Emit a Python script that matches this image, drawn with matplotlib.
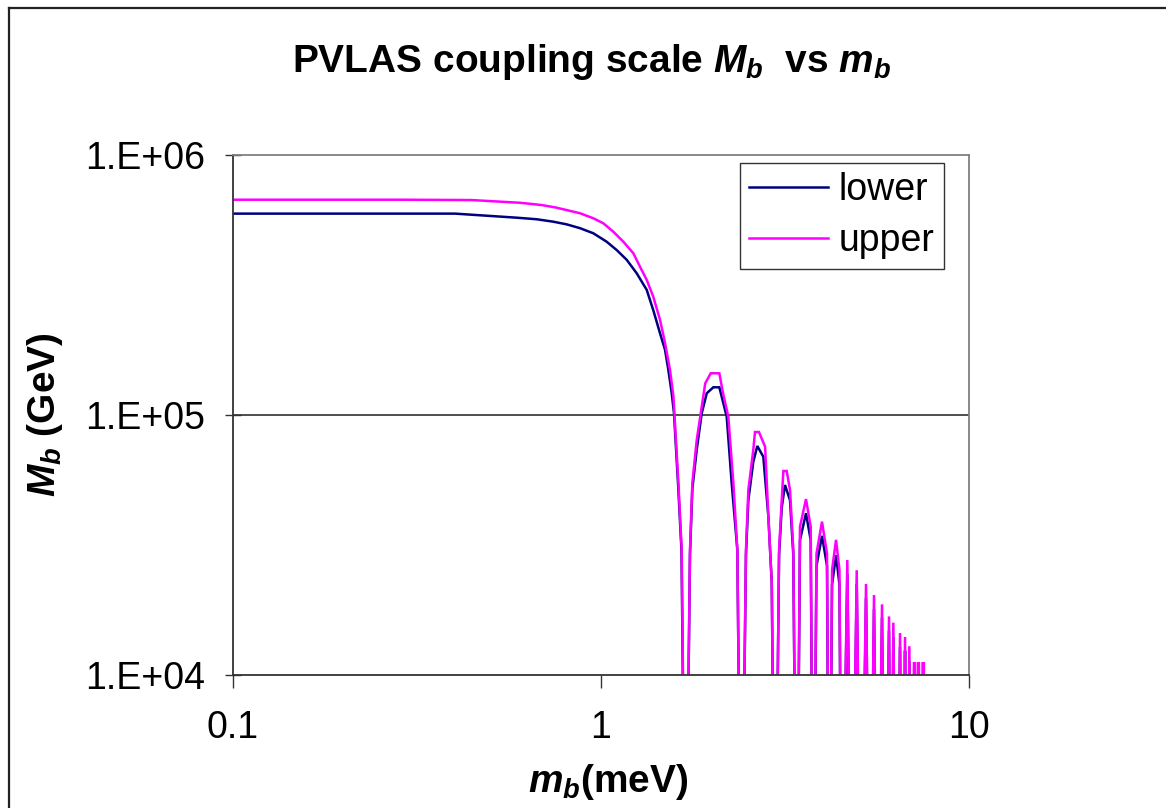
import matplotlib
matplotlib.use("Agg")
import matplotlib.pyplot as plt
from matplotlib.lines import Line2D

# Values (m_b in meV, M_b in GeV).
# Zeros of the oscillation are stored as 1e3 so the line drops off the log axis.
upper_m = [0.100, 0.284, 0.445, 0.603, 0.690, 0.750, 0.807, 0.877, 0.953, 1.015, 1.080, 1.150,
           1.224, 1.276, 1.331, 1.387, 1.447, 1.493, 1.540, 1.573, 1.592, 1.623, 1.657, 1.697,
           1.745, 1.771, 1.820, 1.878, 1.920, 1.987, 2.097, 2.146, 2.218, 2.289, 2.347, 2.406,
           2.477, 2.514, 2.593, 2.621, 2.687, 2.792, 2.850, 2.911, 2.971,
           3.047, 3.098, 3.130, 3.196, 3.263, 3.331, 3.402,
           3.473, 3.606, 3.714, 3.775,
           3.851, 3.986, 4.113, 4.173,
           4.244, 4.352, 4.447, 4.510,
           4.670, 4.801, 4.953, 5.088, 5.250, 5.383, 5.519, 5.649,
           5.803, 5.913, 6.063, 6.139, 6.228, 6.362, 6.495, 6.598,
           6.702, 6.785, 6.884, 6.988,
           7.085, 7.125, 7.192, 7.265, 7.310, 7.374, 7.480, 7.540, 7.616]
upper_M = [673000, 673000, 671000, 655000, 642000, 629000, 614000, 597000, 571000, 546000, 507000, 464000,
           419000, 372000, 331000, 285000, 232000, 189000, 149000, 118000, 88000, 54800, 30300, 1000,
           30300, 54800, 80100, 107600, 132400, 144700, 144700, 121200, 98500, 54800, 30300, 1000,
           30300, 51500, 73400, 86000, 86000, 75500, 40600, 22600, 1000,
           30300, 47100, 60900, 60900, 51500, 30300, 1000,
           37200, 47500, 37200, 1000,
           29300, 38900, 29300, 1000,
           25300, 33100, 25300, 1000,
           27700, 1000, 25300, 1000, 22400, 1000, 20300, 1000,
           18700, 1000, 16800, 1000, 15900, 1000, 14500, 1000,
           14000, 1000, 12900, 1000,
           11100, 11100, 1000, 11100, 11100, 1000, 11100, 11100, 1000]

lower_m = [0.100, 0.401, 0.590, 0.669, 0.742, 0.807, 0.877, 0.953, 1.036, 1.103, 1.175,
           1.250, 1.331, 1.387, 1.447, 1.493, 1.524, 1.557, 1.579, 1.620, 1.655, 1.697,
           1.745, 1.771, 1.820, 1.878, 1.938, 2.019, 2.097, 2.196, 2.265, 2.347, 2.406,
           2.477, 2.514, 2.593, 2.659, 2.761, 2.850, 2.911, 2.971,
           3.047, 3.098, 3.162, 3.263, 3.331, 3.402,
           3.473, 3.606, 3.714, 3.775,
           3.851, 3.986, 4.113, 4.173,
           4.244, 4.352, 4.447, 4.510,
           4.670, 4.801, 4.953, 5.088, 5.250, 5.383, 5.519, 5.649,
           5.803, 5.913, 6.063, 6.139, 6.228, 6.362, 6.495, 6.598,
           6.702, 6.785, 6.884, 6.988,
           7.111, 7.192, 7.291, 7.374, 7.510, 7.616]
lower_M = [595000, 595000, 574000, 566000, 554000, 541000, 523000, 500000, 464000, 431000, 395000,
           351000, 303000, 253000, 206000, 178000, 149000, 121000, 101500, 54000, 30000, 1000,
           29000, 52000, 73400, 101500, 121200, 127800, 127800, 98500, 54800, 30300, 1000,
           29000, 47000, 66000, 76000, 69100, 40600, 22600, 1000,
           29000, 44000, 53800, 47000, 29000, 1000,
           33000, 41900, 33000, 1000,
           26300, 34300, 26300, 1000,
           22200, 28900, 22200, 1000,
           24500, 1000, 22400, 1000, 19800, 1000, 17900, 1000,
           16600, 1000, 14800, 1000, 14000, 1000, 12800, 1000,
           12400, 1000, 11300, 1000,
           9800, 1000, 9800, 1000, 9800, 1000]

x_ticks = [0.1, 1, 10]
x_tick_labels = ["0.1", "1", "10"]
y_ticks = [1e4, 1e5, 1e6]
y_tick_labels = ["1.E+04", "1.E+05", "1.E+06"]

plt.rcParams['font.family'] = ['Liberation Sans', 'DejaVu Sans']
plt.rcParams['mathtext.fontset'] = 'custom'
plt.rcParams['mathtext.it'] = 'Liberation Sans:italic:bold'
plt.rcParams['mathtext.rm'] = 'Liberation Sans:bold'
plt.rcParams['mathtext.bf'] = 'Liberation Sans:bold'

fig = plt.figure(figsize=(11.66, 8.08), dpi=100)
ax = fig.add_axes([233 / 1166, 1 - 675 / 808, (969 - 233) / 1166, (675 - 155) / 808])

ax.plot(lower_m, lower_M, color='#000080', lw=1.8, label='lower', solid_joinstyle='miter')
ax.plot(upper_m, upper_M, color='#FF00FF', lw=1.8, label='upper', solid_joinstyle='miter')

ax.set_xscale('log')
ax.set_yscale('log')
ax.set_xlim(0.1, 10)
ax.set_ylim(1e4, 1e6)
ax.set_xticks(x_ticks, x_tick_labels)
ax.set_yticks(y_ticks, y_tick_labels)
ax.minorticks_off()
ax.tick_params(axis='x', direction='out', length=9, width=1, labelsize=27, pad=16, color='#333333')
ax.tick_params(axis='y', direction='inout', length=12, width=1, labelsize=27, pad=14, color='#333333')

# only the 1E+05 gridline is visible inside
ax.axhline(1e5, color='#404040', lw=1.3, zorder=1)

for side in ['top', 'right']:
    ax.spines[side].set_color('#808080')
    ax.spines[side].set_linewidth(1.3)
for side in ['left', 'bottom']:
    ax.spines[side].set_color('#333333')
    ax.spines[side].set_linewidth(1.3)

ax.set_xlabel(r'$m_b$(meV)', fontsize=28, fontweight='bold')
ax.xaxis.set_label_coords(0.51, -0.167)
ax.set_ylabel(r'$M_b$ (GeV)', fontsize=28, fontweight='bold')
ax.yaxis.set_label_coords(-0.228, 0.5)

fig.text(592 / 1166, 1 - 62 / 808, r'PVLAS coupling scale $M_b$  vs $m_b$',
         fontsize=28, fontweight='bold', ha='center', va='center')

leg = ax.legend(loc='upper right', bbox_to_anchor=(944 / 1166, 1 - 163 / 808),
                bbox_transform=fig.transFigure, fontsize=27, frameon=True, fancybox=False,
                edgecolor='black', borderaxespad=0, borderpad=0.25, handlelength=2.1,
                handletextpad=0.3, labelspacing=0.4)
leg.get_frame().set_linewidth(1.0)

# outer chart border (left and top edges visible in the reference)
fig.add_artist(Line2D([8.5 / 1166, 8.5 / 1166], [0, 1 - 7.5 / 808], color='#222222', lw=1.6))
fig.add_artist(Line2D([8.5 / 1166, 1], [1 - 7.5 / 808, 1 - 7.5 / 808], color='#222222', lw=1.6))

fig.savefig('out.png', dpi=100)
